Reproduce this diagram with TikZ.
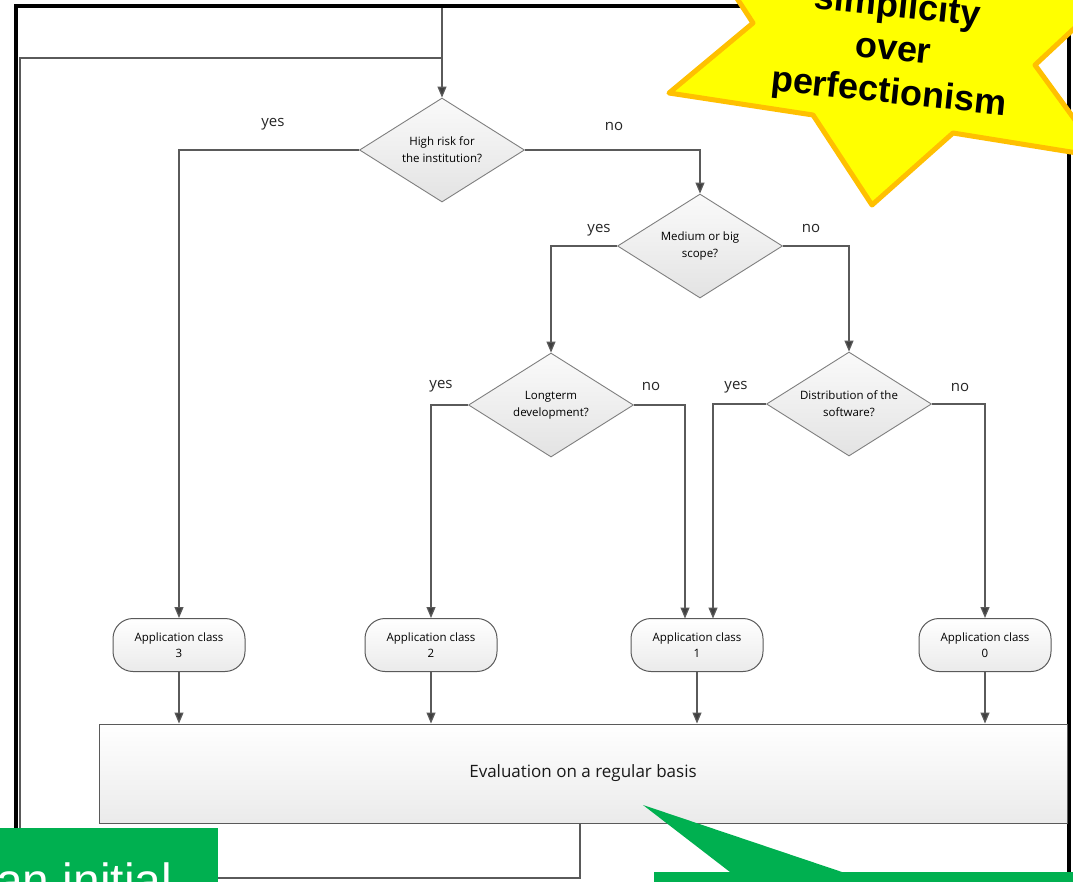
\documentclass[tikz,border=0pt]{standalone}
\usepackage{fontspec}
\setmainfont{Open Sans}
\newfontfamily\arialfont{Liberation Sans}
\usetikzlibrary{shapes.geometric,shapes.misc,arrows.meta}
\definecolor{ln}{HTML}{5A5A5A}
\definecolor{bd}{HTML}{7F7F7F}
\definecolor{tipc}{HTML}{404040}
\definecolor{starfill}{HTML}{FFFF00}
\definecolor{starline}{HTML}{FFC000}
\definecolor{grn}{HTML}{00B050}
\begin{document}
\begin{tikzpicture}[x=1pt,y=-1pt,
  dia/.style={diamond, aspect=1.6, draw=bd, line width=0.9pt, top color=black!2, bottom color=black!11,
    minimum width=165pt, minimum height=104pt, inner sep=0pt, align=center,
    font=\fontsize{11.5}{17}\selectfont, text=black},
  appbox/.style={rectangle, rounded corners=20pt, draw=ln, line width=1pt, top color=white, bottom color=black!8,
    minimum width=132pt, minimum height=53pt, inner sep=0pt, align=center,
    font=\fontsize{11.5}{16}\selectfont, text=black},
  lbl/.style={font=\fontsize{15}{18}\selectfont, text=black!85, inner sep=0pt},
  conn/.style={draw=ln, line width=1.2pt},
  arr/.style={conn, -{Triangle[length=11pt,width=9pt,fill=tipc]}}]
\useasboundingbox (0,0) rectangle (1073,881);
\clip (0,0) rectangle (1073,881);
\fill[white] (0,0) rectangle (1073,881);

% black frame
\draw[line width=4pt, line join=miter] (16,900) -- (16,6) -- (1069,6) -- (1069,900);

% nodes
\node[dia] (d1) at (442,150) {High risk for\\the institution?};
\node[dia] (d2) at (700,246) {Medium or big\\scope?};
\node[dia] (d3) at (551,405) {Longterm\\development?};
\node[dia] (d4) at (849,404) {Distribution of the\\software?};
\node[appbox] (a3) at (179,645) {Application class\\3};
\node[appbox] (a2) at (431,645) {Application class\\2};
\node[appbox] (a1) at (697,645) {Application class\\1};
\node[appbox] (a0) at (985,645) {Application class\\0};
\node[rectangle, draw=ln, line width=1pt, top color=white, bottom color=black!8,
  minimum width=968pt, minimum height=99pt, inner sep=0pt,
  font=\fontsize{17}{20}\selectfont, text=black!90] (ev) at (583,773.5) {Evaluation on a regular basis};

% labels
\node[lbl] (y1) at (273,124) {yes};
\node[lbl] (n1) at (614,126) {no};
\node[lbl] (y2) at (599,230) {yes};
\node[lbl] (n2) at (811,228) {no};
\node[lbl] (y3) at (441,386) {yes};
\node[lbl] (n3) at (651,386) {no};
\node[lbl] (y4) at (736,387) {yes};
\node[lbl] (n4) at (960,387) {no};

% coordinates for entry and loop
\coordinate (st) at (442,8);
\coordinate (lj) at (442,58);
\coordinate (lt) at (20,58);
\coordinate (ll) at (20,878);
\coordinate (lb) at (580,878);
\coordinate (a1l) at (685,618.5);
\coordinate (a1r) at (713,618.5);

% connectors
\draw[arr] (st) -- (d1.north);
\draw[conn] (lb |- ev.south) -- (lb) -- (ll) -- (lt) -- (lj);
\draw[arr] (d1.west) -| (a3.north);
\draw[arr] (d1.east) -| (d2.north);
\draw[arr] (d2.west) -| (d3.north);
\draw[arr] (d2.east) -| (d4.north);
\draw[arr] (d3.west) -| (a2.north);
\draw[arr] (d3.east) -| (a1l);
\draw[arr] (d4.west) -| (a1r);
\draw[arr] (d4.east) -| (a0.north);
\draw[arr] (a3.south) -- (a3.south |- ev.north);
\draw[arr] (a2.south) -- (a2.south |- ev.north);
\draw[arr] (a1.south) -- (a1.south |- ev.north);
\draw[arr] (a0.south) -- (a0.south |- ev.north);

% star
\draw[fill=starfill, draw=starline, line width=5pt, line join=round]
  (669,93) -- (753,23) -- (723,-23) -- (820,-40) -- (900,-110) -- (990,-30) -- (1110,-5)
  -- (1035,65) -- (1102,157) -- (953,133) -- (872,205) -- (813,115) -- cycle;
\node[rotate=-6, align=center, font=\arialfont\bfseries\fontsize{36}{43}\selectfont, inner sep=0pt] (star) at (893,51)
  {simplicity\\over\\perfectionism};

% green callouts
\fill[grn] (-5,828) rectangle (218,890);
\node[anchor=base west, text=white, font=\arialfont\fontsize{48}{52}\selectfont, inner sep=0pt] (gt) at (-4,897) {an initial};
\fill[grn] (654,872) -- (730,872) -- (643,805) -- (842,872) -- (1080,872) -- (1080,890) -- (654,890) -- cycle;
\end{tikzpicture}
\end{document}
